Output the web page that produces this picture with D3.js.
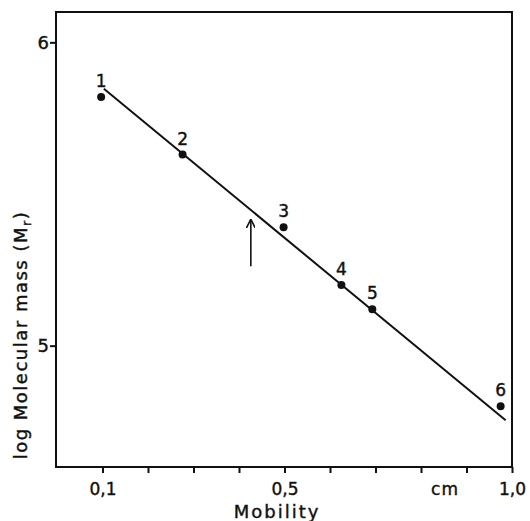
<!DOCTYPE html>
<html>
<head>
<meta charset="utf-8">
<script src="https://cdn.jsdelivr.net/npm/d3@7"></script>
<style>
    body { margin: 0; background: #fff; }
    text { font-family: "DejaVu Sans", sans-serif; fill: #111; stroke: #111; stroke-width: 0.4px; }
</style>
</head>
<body>
<div id="chart"></div>
<script>
// values
const labels = ["1", "2", "3", "4", "5", "6"];
const mobility = [0.097, 0.276, 0.498, 0.625, 0.693, 0.975];
const logMass = [5.82, 5.63, 5.39, 5.20, 5.12, 4.80];
const fitX = [0.103, 0.986];
const fitY = [5.847, 4.754];
const arrowX = 0.426;
const arrowY = [5.262, 5.414];
const xTicks = [0.1, 0.2, 0.3, 0.4, 0.5, 0.6, 0.7, 0.8, 0.9, 1.0];
const xTickLabels = {0.1: "0,1", 0.5: "0,5", 1.0: "1,0"};
const yTicks = [5, 6];

const width = 530, height = 521;
const plotLeft = 56, plotRight = 512, plotTop = 12, plotBottom = 467;

const svg = d3.select("#chart")
    .append("svg")
    .attr("width", width)
    .attr("height", height);

const x = d3.scaleLinear().domain([0, 1]).range([plotLeft + 1, plotRight]);
const y = d3.scaleLinear().domain([4.6, 6.1]).range([plotBottom, plotTop]);

// frame
svg.append("rect")
    .attr("x", plotLeft)
    .attr("y", plotTop)
    .attr("width", plotRight - plotLeft)
    .attr("height", plotBottom - plotTop)
    .attr("fill", "none")
    .attr("stroke", "#111")
    .attr("stroke-width", 2);

// x axis
const xAxis = svg.append("g")
    .attr("transform", `translate(0,${plotBottom})`)
    .call(d3.axisBottom(x).tickValues(xTicks).tickSize(6).tickFormat(d => xTickLabels[d] || ""));
xAxis.select(".domain").remove();
xAxis.selectAll("line").attr("stroke", "#111").attr("stroke-width", 2);
xAxis.selectAll("text")
    .attr("y", 28)
    .attr("dy", null)
    .style("font-size", "17px")
    .style("fill", "#111");

svg.append("text")
    .attr("x", 445)
    .attr("y", 495)
    .attr("text-anchor", "middle")
    .style("font-size", "17px")
    .style("letter-spacing", "1px")
    .text("cm");

svg.append("text")
    .attr("x", 277)
    .attr("y", 518)
    .attr("text-anchor", "middle")
    .style("font-size", "18px")
    .style("letter-spacing", "2px")
    .text("Mobility");

// y axis
const yAxis = svg.append("g")
    .attr("transform", `translate(${plotLeft},0)`)
    .call(d3.axisLeft(y).tickValues(yTicks).tickSize(6).tickFormat(d3.format("d")));
yAxis.select(".domain").remove();
yAxis.selectAll("line").attr("stroke", "#111").attr("stroke-width", 2);
yAxis.selectAll("text")
    .attr("x", -7)
    .style("font-size", "18px")
    .style("fill", "#111");

const yTitle = svg.append("text")
    .attr("transform", "translate(27,335) rotate(-90)")
    .attr("text-anchor", "middle")
    .style("font-size", "18px")
    .style("letter-spacing", "1.5px");
yTitle.append("tspan").text("log Molecular mass (M");
yTitle.append("tspan").attr("dy", 4).style("font-size", "13px").text("r");
yTitle.append("tspan").attr("dy", -4).text(")");

// fitted line
svg.append("line")
    .attr("x1", x(fitX[0]))
    .attr("y1", y(fitY[0]))
    .attr("x2", x(fitX[1]))
    .attr("y2", y(fitY[1]))
    .attr("stroke", "#111")
    .attr("stroke-width", 2);

// points and labels
const pts = labels.map((l, i) => ({label: l, mx: mobility[i], my: logMass[i]}));

svg.selectAll("circle.pt")
    .data(pts)
    .join("circle")
    .attr("class", "pt")
    .attr("cx", d => x(d.mx))
    .attr("cy", d => y(d.my))
    .attr("r", 4)
    .attr("fill", "#111");

svg.selectAll("text.pl")
    .data(pts)
    .join("text")
    .attr("class", "pl")
    .attr("x", d => x(d.mx))
    .attr("y", d => y(d.my) - 10)
    .attr("text-anchor", "middle")
    .style("font-size", "17px")
    .text(d => d.label);

// arrow
svg.append("defs").append("marker")
    .attr("id", "head")
    .attr("viewBox", "0 0 10 10")
    .attr("refX", 9)
    .attr("refY", 5)
    .attr("markerWidth", 9)
    .attr("markerHeight", 9)
    .attr("markerUnits", "userSpaceOnUse")
    .attr("orient", "auto")
    .append("path")
    .attr("d", "M0,0 L10,5 L0,10")
    .attr("fill", "none")
    .attr("stroke", "#111")
    .attr("stroke-width", 1.8);

svg.append("line")
    .attr("x1", x(arrowX))
    .attr("y1", y(arrowY[0]))
    .attr("x2", x(arrowX))
    .attr("y2", y(arrowY[1]))
    .attr("stroke", "#111")
    .attr("stroke-width", 1.6)
    .attr("marker-end", "url(#head)");
</script>
</body>
</html>
